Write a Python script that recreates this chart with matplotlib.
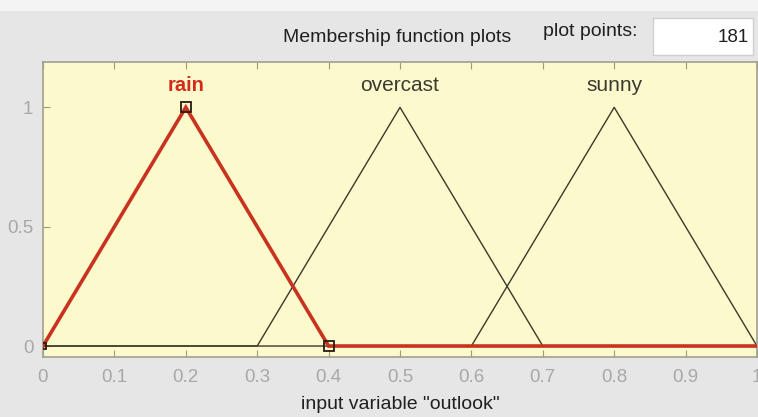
import numpy as np
import matplotlib
matplotlib.use("Agg")
import matplotlib.pyplot as plt
from matplotlib.patches import Rectangle

plt.rcParams['font.family'] = ['Liberation Sans', 'DejaVu Sans']

# data
mf_names = ["rain", "overcast", "sunny"]
mf_params = [[0.0, 0.2, 0.4], [0.3, 0.5, 0.7], [0.6, 0.8, 1.0]]
selected = "rain"
x_range = [0.0, 1.0]
n_points = 181
xticks = [0, 0.1, 0.2, 0.3, 0.4, 0.5, 0.6, 0.7, 0.8, 0.9, 1]
xticklabels = ["0", "0.1", "0.2", "0.3", "0.4", "0.5", "0.6", "0.7", "0.8", "0.9", "1"]
yticks = [0, 0.5, 1]
yticklabels = ["0", "0.5", "1"]
var_name = "outlook"

W, H = 758, 417
fig = plt.figure(figsize=(W / 100, H / 100), dpi=100)
fig.patch.set_facecolor("#e6e6e6")
# lighter top strip
fig.add_artist(Rectangle((0, 1 - 11 / H), 1, 11 / H, transform=fig.transFigure,
                         facecolor="#f4f4f4", edgecolor="none", zorder=0))

ax = fig.add_axes([43 / W, 1 - 357 / H, 714 / W, 295 / H])
ax.set_facecolor("#fcf9cd")

x = np.linspace(x_range[0], x_range[1], n_points)

def trimf(xv, p):
    a, b, c = p
    left = np.where(b > a, (xv - a) / (b - a + 1e-12), 1.0)
    right = np.where(c > b, (c - xv) / (c - b + 1e-12), 1.0)
    return np.clip(np.minimum(left, right), 0, 1)

for name, p in zip(mf_names, mf_params):
    y = trimf(x, p)
    if name == selected:
        ax.plot(x, y, color="#c8321e", lw=2.6, zorder=3, solid_joinstyle="miter")
        ax.plot([p[1]], [1], marker="s", ms=7, mfc="none", mec="#2a1a10", mew=1.3, zorder=4)
        ax.plot([p[2]], [0], marker="s", ms=7, mfc="none", mec="#2a1a10", mew=1.3, zorder=4)
        ax.plot([p[0]], [0], marker="s", ms=4, mfc="none", mec="#2a1a10", mew=1.3, zorder=4)
        ax.text(p[1], 1.09, name, color="#d42a1a", ha="center", va="center",
                fontsize=14.5, fontweight="bold")
    else:
        ax.plot(x, y, color="#3a3a28", lw=1.0, zorder=2)
        ax.text(p[1], 1.09, name, color="#3a3a30", ha="center", va="center", fontsize=15)

ax.set_xlim(x_range[0], x_range[1])
ax.set_ylim(-0.046, 1.19)
ax.set_xticks(xticks)
ax.set_xticklabels(xticklabels)
ax.set_yticks(yticks)
ax.set_yticklabels(yticklabels)
ax.tick_params(axis="x", direction="in", top=True, length=5, color="#9a9a80",
               labelsize=13.5, labelcolor="#a8a8a8", pad=9)
ax.tick_params(axis="y", direction="in", length=5, color="#9a9a80",
               labelsize=13.5, labelcolor="#a8a8a8", pad=7)
for s in ax.spines.values():
    s.set_color("#a0a090")
    s.set_linewidth(1.2)

ax.set_xlabel('input variable "%s"' % var_name, fontsize=14, color="#202020", labelpad=7)

fig.text(397 / W, 1 - 38 / H, "Membership function plots", ha="center", va="center",
         fontsize=14, color="#202020")
fig.text(590 / W, 1 - 32 / H, "plot points:", ha="center", va="center",
         fontsize=14, color="#202020")
fig.add_artist(Rectangle((653 / W, 1 - 55 / H), 100 / W, 37 / H, transform=fig.transFigure,
                         facecolor="white", edgecolor="#d0d0d0", lw=1, zorder=1))
fig.text(749 / W, 1 - 37 / H, str(n_points), ha="right", va="center",
         fontsize=13.5, color="#202020", zorder=2)

fig.savefig("out.png", dpi=100, facecolor=fig.get_facecolor())
